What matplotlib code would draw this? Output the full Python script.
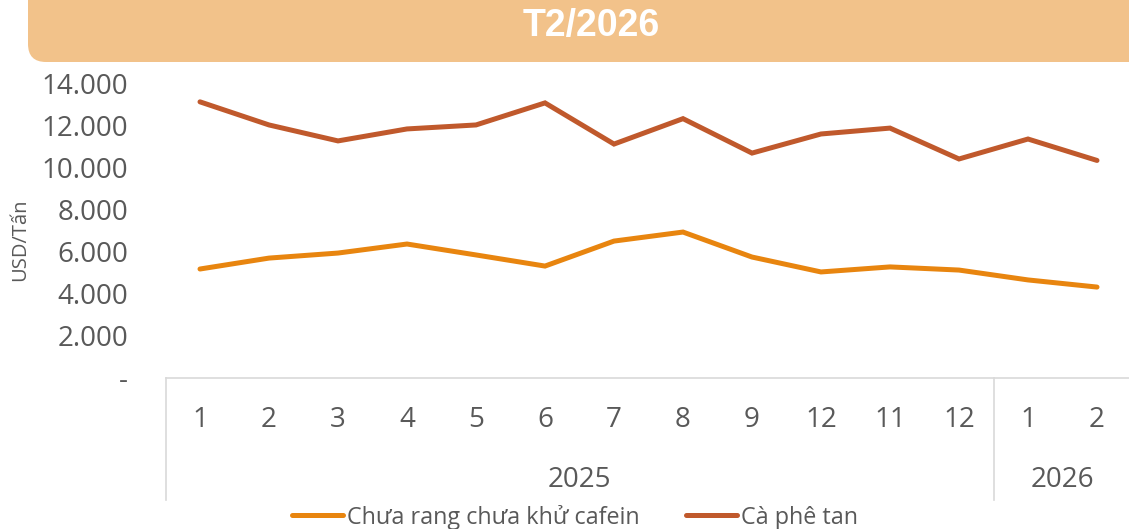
import matplotlib
matplotlib.use('Agg')
from matplotlib import pyplot as plt
from matplotlib.patches import FancyBboxPatch
from matplotlib.lines import Line2D
from matplotlib.ticker import FuncFormatter
import matplotlib.transforms as mtransforms

# data
MONTHS = ['1', '2', '3', '4', '5', '6', '7', '8', '9', '12', '11', '12', '1', '2']
YEARS = ['2025', '2026']
YEAR_SPANS = [(0, 11), (12, 13)]
CHUA_RANG = [5190, 5710, 5950, 6380, 5860, 5330, 6520, 6950, 5760, 5050, 5290, 5140, 4670, 4330]
CA_PHE_TAN = [13150, 12050, 11290, 11860, 12050, 13100, 11140, 12350, 10710, 11620, 11900, 10430, 11380, 10360]
TITLE = 'T2/2026'

ORANGE = '#E8850F'
RUST = '#C0592C'
TEXT = '#595959'
AXIS = '#D9D9D9'
BANNER = '#F2C28A'

plt.rcParams['font.family'] = ['Open Sans', 'DejaVu Sans']


def fmt_tick(v, pos):
    if v == 0:
        return '-'
    return f"{v:,.0f}".replace(',', '.')


def main() -> None:
    fig = plt.figure(figsize=(11.29, 5.29), dpi=100)

    # title banner, partly cut at the top like the reference
    banner = FancyBboxPatch((28, 529 - 62), 1150, 120, boxstyle='round,pad=0,rounding_size=18',
                            transform=None, facecolor=BANNER, edgecolor='none', zorder=0)
    fig.patches.append(banner)
    fig.text(0.524, 1 - 26 / 529, TITLE, ha='center', va='center', color='white',
             fontsize=27, fontweight='bold', family='Liberation Sans')

    ax = fig.add_axes([165.5 / 1129, 1 - 378 / 529, 966 / 1129, 294 / 529])
    x = list(range(len(MONTHS)))
    ax.plot(x, CHUA_RANG, color=ORANGE, lw=3.6, solid_capstyle='round', solid_joinstyle='miter',
            clip_on=False, label='Chưa rang chưa khử cafein')
    ax.plot(x, CA_PHE_TAN, color=RUST, lw=3.6, solid_capstyle='round', solid_joinstyle='miter',
            clip_on=False, label='Cà phê tan')

    ax.set_xlim(-0.5, len(MONTHS) - 0.5)
    ax.set_ylim(0, 14000)
    ax.set_yticks(range(0, 14001, 2000))
    ax.yaxis.set_major_formatter(FuncFormatter(fmt_tick))
    ax.tick_params(axis='y', length=0, pad=27, labelsize=20, labelcolor=TEXT)
    ax.set_xticks([])
    for side in ['top', 'right', 'left']:
        ax.spines[side].set_visible(False)
    ax.spines['bottom'].set_color(AXIS)
    ax.spines['bottom'].set_linewidth(1.2)

    ax.set_ylabel('USD/Tấn', fontsize=14.5, color=TEXT, labelpad=0)
    ax.yaxis.set_label_coords(-135 / 966, 0.47)

    trans = mtransforms.blended_transform_factory(ax.transData, ax.transAxes)
    for i, m in enumerate(MONTHS):
        ax.text(i, -42 / 294, m, transform=trans, ha='center', va='center',
                fontsize=20, color=TEXT)

    # group separators of the two-level category axis
    edges = [-0.5] + [end + 0.5 for _, end in YEAR_SPANS]
    for e in edges:
        ax.plot([e, e], [0, -122 / 294], transform=trans, color=AXIS, lw=1.2, clip_on=False)
    for year, (start, end) in zip(YEARS, YEAR_SPANS):
        ax.text((start + end) / 2, -102 / 294, year, transform=trans, ha='center', va='center',
                fontsize=20, color=TEXT)

    handles = [Line2D([], [], color=ORANGE, lw=3.6, solid_capstyle='round'),
               Line2D([], [], color=RUST, lw=3.6, solid_capstyle='round')]
    labels = ['Chưa rang chưa khử cafein', 'Cà phê tan']
    leg = fig.legend(handles, labels, loc='center', bbox_to_anchor=(0.509, 1 - 517 / 529), ncol=2,
                     frameon=False, fontsize=16.8, handlelength=2.2, handletextpad=0.15,
                     columnspacing=2.0, borderpad=0, borderaxespad=0)
    for t in leg.get_texts():
        t.set_color(TEXT)

    fig.savefig('out.png', dpi=100)


if __name__ == '__main__':
    main()
